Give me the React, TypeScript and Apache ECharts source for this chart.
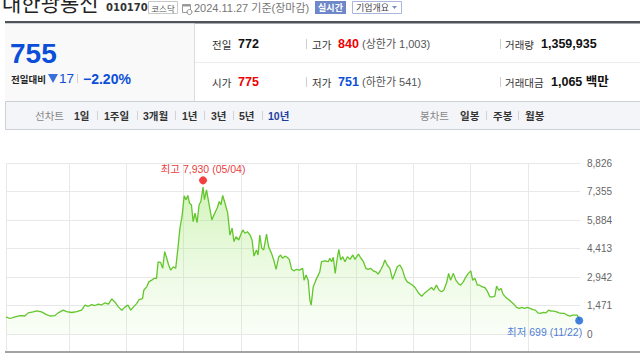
import React, { useEffect, useRef } from "react";
import * as echarts from "echarts";

// ---------- chart data ----------
const dates = [
  "2014-11-27","2014-12-22","2015-01-24","2015-02-25","2015-03-26","2015-04-17","2015-05-18","2015-06-10","2015-07-11","2015-08-12",
  "2015-09-03","2015-10-05","2015-10-25","2015-11-26","2015-12-18","2016-01-19","2016-02-20","2016-03-22","2016-04-13","2016-05-03",
  "2016-05-25","2016-06-15","2016-07-06","2016-07-27","2016-08-18","2016-09-09","2016-09-30","2016-10-21","2016-11-11","2016-12-03",
  "2016-12-24","2017-01-11","2017-01-29","2017-02-16","2017-03-07","2017-03-23","2017-04-14","2017-04-22","2017-05-10","2017-05-24",
  "2017-06-11","2017-06-25","2017-07-12","2017-07-22","2017-08-07","2017-08-20","2017-09-02","2017-09-15","2017-09-27","2017-10-10",
  "2017-10-26","2017-11-11","2017-11-24","2017-12-08","2017-12-21","2018-01-04","2018-01-16","2018-01-27","2018-02-07","2018-02-19",
  "2018-03-02","2018-03-14","2018-03-27","2018-04-09","2018-04-20","2018-05-04","2018-05-13","2018-05-26","2018-06-10","2018-06-29",
  "2018-07-18","2018-08-02","2018-08-15","2018-08-26","2018-09-06","2018-09-21","2018-10-08","2018-10-22","2018-11-05","2018-11-17",
  "2018-11-30","2018-12-17","2018-12-29","2019-01-12","2019-01-26","2019-02-10","2019-02-27","2019-03-12","2019-03-24","2019-04-09",
  "2019-04-19","2019-04-30","2019-05-13","2019-05-25","2019-06-12","2019-06-25","2019-07-14","2019-07-28","2019-08-12","2019-08-28",
  "2019-09-10","2019-09-22","2019-10-07","2019-10-21","2019-11-04","2019-11-19","2019-12-03","2019-12-20","2020-01-07","2020-01-28",
  "2020-02-06","2020-02-19","2020-03-03","2020-03-14","2020-03-22","2020-04-04","2020-04-21","2020-05-06","2020-05-16","2020-05-27",
  "2020-06-18","2020-07-09","2020-07-19","2020-07-30","2020-08-10","2020-08-22","2020-09-01","2020-09-14","2020-09-26","2020-10-09",
  "2020-10-23","2020-11-08","2020-11-25","2020-12-12","2020-12-26","2021-01-17","2021-02-02","2021-02-18","2021-03-05","2021-03-19",
  "2021-04-04","2021-04-21","2021-05-08","2021-05-22","2021-06-07","2021-06-23","2021-07-04","2021-07-19","2021-08-05","2021-08-22",
  "2021-09-07","2021-09-21","2021-10-08","2021-10-25","2021-11-10","2021-11-24","2021-12-11","2021-12-28","2022-01-12","2022-02-03",
  "2022-02-24","2022-03-15","2022-04-06","2022-04-27","2022-05-11","2022-05-28","2022-06-15","2022-06-30","2022-07-14","2022-08-01",
  "2022-08-14","2022-08-26","2022-09-13","2022-09-29","2022-10-14","2022-10-29","2022-11-15","2022-12-02","2022-12-17","2023-01-02",
  "2023-01-14","2023-01-29","2023-02-13","2023-02-28","2023-03-17","2023-04-01","2023-04-16","2023-05-03","2023-05-20","2023-06-04",
  "2023-06-15","2023-06-29","2023-07-14","2023-07-26","2023-08-13","2023-08-30","2023-09-16","2023-10-03","2023-10-20","2023-11-06",
  "2023-11-23","2023-12-10","2023-12-27","2024-01-14","2024-02-01","2024-02-17","2024-03-04","2024-03-21","2024-04-07","2024-04-24",
  "2024-05-11","2024-05-27","2024-06-14","2024-07-01","2024-07-17","2024-08-04","2024-08-21","2024-09-07","2024-09-24","2024-10-11",
  "2024-10-28","2024-11-10","2024-11-22","2024-11-27",
];
const prices = [
  880,800,880,950,930,1090,1140,1190,1140,1000,
  930,950,1090,1230,1160,1110,1160,1230,1490,1430,
  1520,1470,1540,1500,1610,1540,1810,1640,1400,1230,
  1400,1490,1230,1400,1570,1780,1830,2260,2430,2690,
  2780,2870,2870,3730,3680,3390,4250,3910,3560,3300,
  3470,3390,4340,5460,6060,7130,6930,7150,6750,6670,
  5800,6240,5750,6670,6840,7580,6930,7440,6750,5890,
  6240,6500,6840,6670,7150,6750,6240,5110,5460,4770,
  5020,4850,5110,5370,5200,5280,5110,4850,4020,4340,
  4080,5110,4420,4340,5160,4510,4160,3820,3340,3960,
  4080,3910,4020,3960,3850,3340,3260,3340,3300,3390,
  2780,3040,2780,1750,1490,2430,2780,3040,3210,3730,
  3780,3730,3910,3730,3960,3130,3730,4370,3820,3990,
  3730,3990,3850,4080,3850,4130,3910,3730,3390,3340,
  3390,3260,3210,3090,3300,3560,3820,3560,3390,2820,
  3160,3470,3560,3300,2870,2690,2610,2520,2400,2120,
  1950,2120,2260,2400,2260,2520,2260,2180,2260,2640,
  3130,2780,3130,2780,2610,2520,2690,2950,3130,3260,
  2780,2870,2520,2520,2430,2400,2230,1920,1920,1950,
  2470,2260,2350,2060,1890,1780,1660,1540,1370,1320,
  1370,1320,1370,1320,1260,1230,1090,1060,1120,1090,
  1230,1180,1180,1140,1090,1060,1060,970,920,970,
  970,970,720,755,
];
const rangeStart = "2014-11-27";
const rangeEnd = "2024-11-27";
const yearMarks = [2016, 2017, 2018, 2019, 2020, 2021, 2022, 2023, 2024];
const yMin = 0;
const yMax = 8826;
const yStep = 1471;
const peakPoint = { date: "2018-05-04", value: 7930, label: "최고 7,930 (05/04)" };
const lowPoint = { date: "2024-11-22", value: 699, label: "최저 699 (11/22)" };

// ---------- header texts ----------
const stockName = "대한광통신";
const stockCode = "010170";
const marketName = "코스닥";
const baseDate = "2024.11.27 기준(장마감)";
const realtimeBtn = "실시간";
const overviewBtn = "기업개요";
const currentPrice = "755";
const changeLabel = "전일대비";
const changeValue = "17";
const changeRate = "−2.20%";
const infoRow1 = [
  { label: "전일", value: "772", tone: "normal", extra: "" },
  { label: "고가", value: "840", tone: "up", extra: "(상한가 1,003)" },
  { label: "거래량", value: "1,359,935", tone: "normal", extra: "" },
];
const infoRow2 = [
  { label: "시가", value: "775", tone: "up", extra: "" },
  { label: "저가", value: "751", tone: "down", extra: "(하한가 541)" },
  { label: "거래대금", value: "1,065 백만", tone: "normal", extra: "" },
];
const lineChartTitle = "선차트";
const lineTabs = ["1일", "1주일", "3개월", "1년", "3년", "5년", "10년"];
const candleChartTitle = "봉차트";
const candleTabs = ["일봉", "주봉", "월봉"];

// ---------- layout / style ----------
const KR = '"Noto Sans CJK KR", sans-serif';
const LAT = '"Liberation Sans", "Noto Sans CJK KR", sans-serif';
const BLUE = "#0b4fd8";
const RED = "#f00000";
const lineTabX = [74, 104, 143, 182, 211, 239, 268];
const lineSepX = [97, 137, 175, 204, 233, 262];
const candleTabX = [460, 493, 525];
const candleSepX = [486, 518];
const infoColX = [212, 312, 505];
const infoValX = [238, 338, 541];
const infoValX2 = [238, 338, 551];

function txt(x: number, y: number, text: string, size: number, fill: string, weight = "normal", family = KR, align = "left") {
  return {
    type: "text",
    x,
    y,
    silent: true,
    style: { text, fill, font: `${weight} ${size}px ${family}`, align, verticalAlign: "middle" },
  };
}
function hline(x1: number, x2: number, y: number, stroke: string, w = 1) {
  return { type: "line", silent: true, shape: { x1, y1: y, x2, y2: y }, style: { stroke, lineWidth: w } };
}
function vline(x: number, y1: number, y2: number, stroke: string, w = 1) {
  return { type: "line", silent: true, shape: { x1: x, y1, x2: x, y2 }, style: { stroke, lineWidth: w } };
}
function toneColor(t: string) {
  return t === "up" ? RED : t === "down" ? BLUE : "#111";
}

function buildGraphic() {
  const g: any[] = [];
  // title row
  g.push(txt(2, 2, stockName, 21, "#222", "normal", KR));
  g.push(txt(106, 7.5, stockCode, 10, "#333", "bold", '"DejaVu Sans", sans-serif'));
  g.push({ type: "rect", silent: true, shape: { x: 148.5, y: 1.5, width: 29, height: 12 }, style: { fill: "#fff", stroke: "#c8c8c8", lineWidth: 1 } });
  g.push(txt(163, 7.5, marketName, 8.5, "#555", "normal", KR, "center"));
  g.push({ type: "rect", silent: true, shape: { x: 182.5, y: 4.5, width: 8, height: 8 }, style: { fill: "#fff", stroke: "#9a9a9a", lineWidth: 1 } });
  g.push({ type: "rect", silent: true, shape: { x: 182.5, y: 4.5, width: 8, height: 2 }, style: { fill: "#9a9a9a" } });
  g.push({ type: "circle", silent: true, shape: { cx: 189.5, cy: 12, r: 2.5 }, style: { fill: "#fff", stroke: "#888", lineWidth: 1 } });
  g.push(txt(194, 7.5, baseDate, 11, "#777", "normal", LAT));
  g.push({ type: "rect", silent: true, shape: { x: 315, y: 1, width: 31, height: 13 }, style: { fill: "#6d87c9" } });
  g.push(txt(330.5, 7.5, realtimeBtn, 9, "#fff", "bold", KR, "center"));
  g.push({ type: "rect", silent: true, shape: { x: 352.5, y: 1.5, width: 49, height: 12 }, style: { fill: "#fff", stroke: "#a9b8da", lineWidth: 1 } });
  g.push(txt(356, 7.5, overviewBtn, 9, "#444", "normal", KR));
  g.push({ type: "polygon", silent: true, shape: { points: [[392, 6], [397, 6], [394.5, 9]] }, style: { fill: "#7a8fc7" } });
  // dark rule
  g.push({ type: "rect", silent: true, shape: { x: 5, y: 21, width: 635, height: 2.5 }, style: { fill: "#4f535b" } });
  // info panel
  g.push({ type: "rect", silent: true, shape: { x: 5, y: 23.5, width: 189, height: 77.5 }, style: { fill: "#f9f9f9" } });
  g.push(vline(194.5, 23.5, 101, "#dcdcdc"));
  g.push(hline(195, 640, 62.5, "#ececec"));
  g.push(txt(10, 53.5, currentPrice, 28, BLUE, "bold", LAT));
  g.push(txt(11, 78.5, changeLabel, 9.5, "#222", "bold", KR));
  g.push({ type: "polygon", silent: true, shape: { points: [[48, 74], [58, 74], [53, 83]] }, style: { fill: "#3a6fd9" } });
  g.push(txt(59, 78.5, changeValue, 13.5, BLUE, "normal", LAT));
  g.push(vline(77.5, 74, 83, "#cfcfcf"));
  g.push(txt(83, 78.5, changeRate, 14, BLUE, "bold", LAT));
  const rows = [
    { y: 44, items: infoRow1, valX: infoValX },
    { y: 82, items: infoRow2, valX: infoValX2 },
  ];
  rows.forEach((row) => {
    row.items.forEach((it, i) => {
      g.push(txt(infoColX[i], row.y, it.label, 10.5, "#333", "normal", KR));
      g.push(txt(row.valX[i], row.y, it.value, 12.5, toneColor(it.tone), "bold", LAT));
      if (it.extra) g.push(txt(362, row.y, it.extra, 11, "#555", "normal", LAT));
    });
    g.push(vline(306.5, row.y - 5, row.y + 5, "#cfcfcf"));
    g.push(vline(500.5, row.y - 5, row.y + 5, "#cfcfcf"));
  });
  // tab bar
  g.push({ type: "rect", silent: true, shape: { x: 5.5, y: 101.5, width: 640, height: 28 }, style: { fill: "#f4f5f8", stroke: "#cdd0d6", lineWidth: 1 } });
  const ty = 115.5;
  g.push(txt(35, ty, lineChartTitle, 10.5, "#888", "normal", KR));
  lineTabs.forEach((t, i) => {
    g.push(txt(lineTabX[i], ty, t, 10.5, i === lineTabs.length - 1 ? "#1d3fa0" : "#333", "bold", LAT));
  });
  lineSepX.forEach((x) => g.push(vline(x + 0.5, ty - 4.5, ty + 4.5, "#d2d2d2")));
  g.push(txt(420, ty, candleChartTitle, 10.5, "#888", "normal", KR));
  candleTabs.forEach((t, i) => g.push(txt(candleTabX[i], ty, t, 10.5, "#333", "bold", KR)));
  candleSepX.forEach((x) => g.push(vline(x + 0.5, ty - 4.5, ty + 4.5, "#d2d2d2")));
  // chart bottom rule
  g.push({ type: "rect", silent: true, shape: { x: 5, y: 351, width: 635, height: 2 }, style: { fill: "#a3a3a3" } });
  return g;
}

function buildOption() {
  const yearTicks = [+new Date(rangeStart)].concat(yearMarks.map((y) => +new Date(y, 0, 1)));
  const xCommon = (gridIndex: number) => ({
    type: "time",
    gridIndex,
    min: rangeStart,
    max: rangeEnd,
    axisLine: { show: false },
    axisTick: { show: false, customValues: yearTicks },
    axisLabel: { show: false },
    splitLine: { show: true, showMaxLine: false, lineStyle: { color: "#e8e8e8", width: 1 } },
  });
  const series = dates.map((d, i) => [d, prices[i]]);
  return {
    animation: false,
    backgroundColor: "#ffffff",
    grid: [
      { left: 6, top: 163, width: 574, height: 171, show: false },
      { left: 6, top: 334, width: 574, height: 17, show: false },
    ],
    xAxis: [xCommon(0), xCommon(1)],
    yAxis: [
      {
        type: "value",
        gridIndex: 0,
        position: "right",
        min: yMin,
        max: yMax,
        interval: yStep,
        axisLine: { show: false },
        axisTick: { show: false },
        axisLabel: {
          color: "#666",
          fontSize: 10,
          fontFamily: LAT,
          margin: 7,
          formatter: (v: number) => v.toLocaleString("en-US"),
        },
        splitLine: { show: true, lineStyle: { color: "#e8e8e8", width: 1 } },
      },
      { type: "value", gridIndex: 1, show: false, splitLine: { show: false } },
    ],
    series: [
      {
        type: "line",
        xAxisIndex: 0,
        yAxisIndex: 0,
        data: series,
        showSymbol: false,
        symbol: "none",
        lineStyle: { color: "#63c62c", width: 1.3 },
        areaStyle: {
          color: new echarts.graphic.LinearGradient(0, 0, 0, 1, [
            { offset: 0, color: "rgba(140,226,80,0.55)" },
            { offset: 1, color: "rgba(190,240,160,0.12)" },
          ]),
        },
        z: 2,
      },
      {
        type: "scatter",
        xAxisIndex: 0,
        yAxisIndex: 0,
        data: [[peakPoint.date, peakPoint.value]],
        symbolSize: 8,
        itemStyle: { color: "#f01010" },
        label: {
          show: true,
          position: "top",
          distance: 2,
          formatter: () => peakPoint.label,
          color: "#e60000",
          fontSize: 10.5,
          fontFamily: LAT,
        },
        z: 5,
      },
      {
        type: "scatter",
        xAxisIndex: 0,
        yAxisIndex: 0,
        data: [[lowPoint.date, lowPoint.value]],
        symbolSize: 8,
        itemStyle: { color: "#1560d8" },
        label: {
          show: true,
          position: [7, 16],
          align: "right",
          verticalAlign: "middle",
          formatter: () => lowPoint.label,
          color: "#1a5ad0",
          fontSize: 10.5,
          fontFamily: LAT,
        },
        z: 5,
      },
    ],
    graphic: buildGraphic(),
  };
}

export default function App() {
  const ref = useRef<HTMLDivElement>(null);
  useEffect(() => {
    if (!ref.current) return;
    const chart = echarts.init(ref.current, null, { renderer: "svg" });
    chart.setOption(buildOption() as any);
    return () => chart.dispose();
  }, []);
  return (
    <div
      ref={ref}
      style={{ position: "fixed", left: 0, top: 0, width: 640, height: 360, background: "#fff" }}
    />
  );
}
